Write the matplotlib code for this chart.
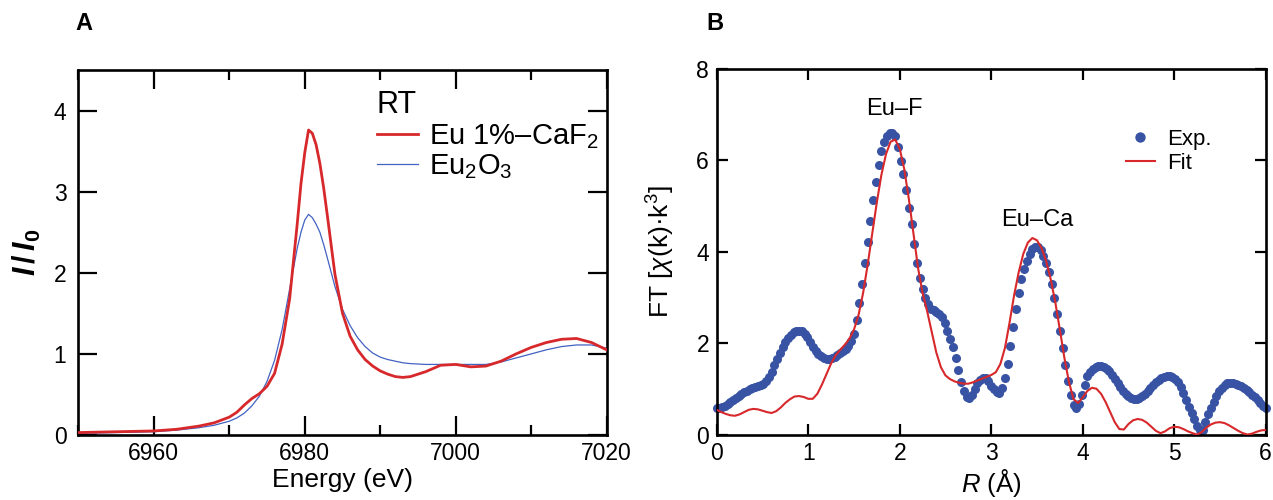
import numpy as np
import matplotlib
matplotlib.use('Agg')
import matplotlib.pyplot as plt
from matplotlib.ticker import MultipleLocator

# =========================================================================
# style
# =========================================================================
plt.rcParams['font.family'] = ['Liberation Sans', 'DejaVu Sans']
plt.rcParams['mathtext.fontset'] = 'custom'
plt.rcParams['mathtext.rm'] = 'Liberation Sans'
plt.rcParams['mathtext.it'] = 'Liberation Sans:italic'
plt.rcParams['mathtext.bf'] = 'Liberation Sans:bold'
plt.rcParams['mathtext.bfit'] = 'Liberation Sans:italic:bold'

RED = '#d7282b'
BLUE_DOT = '#3853a3'
BLUE_LINE = '#4262c2'

# =========================================================================
# data  (A: XANES, B: FT-EXAFS)
# =========================================================================
energy = [6950, 6955, 6960, 6963, 6966, 6968, 6970, 6971, 6972, 6973, 6974,
          6975, 6976, 6977, 6978, 6979, 6979.5, 6980, 6980.5, 6981, 6981.5,
          6982, 6982.5, 6983, 6984, 6985, 6986, 6987, 6988, 6989, 6990,
          6991, 6992, 6993, 6994, 6996, 6998, 7000, 7002, 7004, 7006, 7008,
          7010, 7012, 7014, 7016, 7018, 7020]
xanes_caf2 = [0.03, 0.04, 0.05, 0.07, 0.11, 0.15, 0.22, 0.28, 0.37, 0.45, 0.51,
              0.60, 0.76, 1.12, 1.68, 2.60, 3.10, 3.48, 3.76, 3.72, 3.58,
              3.35, 3.05, 2.70, 1.98, 1.50, 1.22, 1.05, 0.93, 0.85, 0.79,
              0.75, 0.72, 0.71, 0.72, 0.78, 0.86, 0.87, 0.84, 0.85, 0.91, 1.00,
              1.08, 1.14, 1.18, 1.19, 1.14, 1.05]
xanes_eu2o3 = [0.02, 0.03, 0.04, 0.06, 0.09, 0.12, 0.17, 0.21, 0.27, 0.36, 0.48,
               0.66, 0.92, 1.30, 1.80, 2.30, 2.50, 2.65, 2.72, 2.68, 2.60,
               2.50, 2.35, 2.18, 1.83, 1.55, 1.35, 1.20, 1.09, 1.01, 0.96,
               0.93, 0.91, 0.89, 0.88, 0.87, 0.87, 0.87, 0.87, 0.87, 0.90, 0.95,
               1.00, 1.05, 1.09, 1.11, 1.11, 1.07]

# experimental |FT|, sampled every 0.03 A from R = 0
ft_exp = [0.58, 0.60, 0.62, 0.64, 0.67, 0.71, 0.76, 0.81, 0.85, 0.89,
          0.93, 0.97, 1.00, 1.03, 1.05, 1.07, 1.09, 1.12, 1.17, 1.26,
          1.38, 1.52, 1.66, 1.80, 1.92, 2.03, 2.12, 2.19, 2.25, 2.28,
          2.28, 2.26, 2.21, 2.13, 2.03, 1.93, 1.84, 1.77, 1.72, 1.68,
          1.66, 1.66, 1.68, 1.71, 1.75, 1.79, 1.83, 1.88, 1.95, 2.05,
          2.20, 2.50, 2.88, 3.30, 3.75, 4.21, 4.68, 5.12, 5.52, 5.90,
          6.19, 6.40, 6.53, 6.60, 6.60, 6.52, 6.28, 5.98, 5.70, 5.35,
          4.95, 4.60, 4.18, 3.75, 3.42, 3.18, 3.00, 2.85, 2.76, 2.72,
          2.68, 2.64, 2.58, 2.45, 2.28, 2.10, 1.92, 1.69, 1.42, 1.15,
          0.96, 0.82, 0.80, 0.88, 1.01, 1.13, 1.21, 1.25, 1.24, 1.17,
          1.08, 1.00, 0.93, 0.92, 1.03, 1.25, 1.55, 1.95, 2.35, 2.76,
          3.10, 3.40, 3.62, 3.80, 3.95, 4.05, 4.11, 4.10, 4.03, 3.90,
          3.75, 3.55, 3.30, 2.98, 2.64, 2.28, 1.90, 1.53, 1.18, 0.88,
          0.66, 0.58, 0.68, 0.88, 1.10, 1.28, 1.38, 1.45, 1.49, 1.51,
          1.50, 1.48, 1.45, 1.39, 1.31, 1.22, 1.13, 1.04, 0.96, 0.90,
          0.85, 0.81, 0.79, 0.79, 0.81, 0.85, 0.90, 0.96, 1.03, 1.09,
          1.15, 1.20, 1.24, 1.27, 1.28, 1.28, 1.26, 1.22, 1.15, 1.05,
          0.92, 0.77, 0.61, 0.47, 0.34, 0.20, 0.10, 0.11, 0.29, 0.46,
          0.60, 0.73, 0.85, 0.95, 1.03, 1.09, 1.13, 1.14, 1.14, 1.12,
          1.10, 1.06, 1.02, 0.98, 0.94, 0.88, 0.82, 0.76, 0.70, 0.64,
          0.58]
exp_step = 0.03

# fit, sampled every 0.05 A from R = 0
ft_fit = [0.55, 0.50, 0.46, 0.43, 0.42, 0.45, 0.50, 0.55, 0.57, 0.56,
          0.53, 0.50, 0.48, 0.52, 0.60, 0.70, 0.78, 0.84, 0.85, 0.83,
          0.79, 0.79, 0.90, 1.10, 1.33, 1.56, 1.74, 1.86, 1.97, 2.10,
          2.30, 2.62, 3.10, 3.72, 4.40, 5.08, 5.68, 6.13, 6.40, 6.45,
          6.25, 5.80, 5.15, 4.40, 3.65, 3.10, 2.70, 2.25, 1.80, 1.48,
          1.30, 1.22, 1.17, 1.14, 1.12, 1.12, 1.15, 1.19, 1.23, 1.27,
          1.31, 1.37, 1.55, 1.90, 2.45, 3.05, 3.55, 3.95, 4.20, 4.30,
          4.25, 4.08, 3.80, 3.40, 2.90, 2.30, 1.68, 1.15, 0.78, 0.70,
          0.82, 0.96, 1.03, 1.01, 0.90, 0.72, 0.50, 0.28, 0.13, 0.12,
          0.24, 0.32, 0.35, 0.33, 0.27, 0.18, 0.09, 0.04, 0.08, 0.15,
          0.18, 0.17, 0.13, 0.08, 0.04, 0.01, 0.06, 0.16, 0.23, 0.27,
          0.28, 0.26, 0.21, 0.15, 0.09, 0.04, 0.01, 0.03, 0.07, 0.10,
          0.11]
fit_step = 0.05

r_exp = np.arange(len(ft_exp)) * exp_step
r_fit = np.arange(len(ft_fit)) * fit_step

# =========================================================================
# figure
# =========================================================================
fig = plt.figure(figsize=(12.73, 5.0), dpi=100)
ax1 = fig.add_axes([0.0615, 0.13, 0.4151, 0.73])
ax2 = fig.add_axes([0.563, 0.13, 0.4313, 0.733])

for ax in (ax1, ax2):
    for sp in ax.spines.values():
        sp.set_linewidth(1.9)

# ---------------- (A) ----------------
ax1.plot(energy, xanes_caf2, color=RED, lw=2.0, label='Eu 1%–CaF$_2$', zorder=3)
ax1.plot(energy, xanes_eu2o3, color=BLUE_LINE, lw=0.9, label='Eu$_2$O$_3$', zorder=2)
ax1.set_xlim(6950, 7020)
ax1.set_ylim(0, 4.5)
ax1.xaxis.set_major_locator(MultipleLocator(20))
ax1.xaxis.set_minor_locator(MultipleLocator(10))
ax1.yaxis.set_major_locator(MultipleLocator(1))
ax1.tick_params(which='both', direction='in', top=True, right=True, width=1.6,
                labelsize=16.5)
ax1.tick_params(which='major', length=13.5)
ax1.tick_params(which='minor', length=7.2)
ax1.tick_params(axis='x', pad=5.0)
ax1.tick_params(axis='y', pad=8.5)
ax1.set_xlabel('Energy (eV)', fontsize=19)
ax1.set_ylabel(r'$\mathbfit{I}\,\mathbf{/}\,\mathbfit{I}_{\mathbf{0}}$', fontsize=22)
ax1.xaxis.set_label_coords(0.5, -0.09)
ax1.yaxis.set_label_coords(-0.066, 0.5)

leg1 = ax1.legend(loc='upper left', bbox_to_anchor=(0.565, 0.945), frameon=False,
                  fontsize=21, title='RT', title_fontsize=22, alignment='left',
                  handlelength=1.4, handletextpad=0.4, labelspacing=0.06,
                  borderpad=0, borderaxespad=0)

# ---------------- (B) ----------------
ax2.plot(r_exp, ft_exp, 'o', color=BLUE_DOT, ms=6.5, mec='none', label='Exp.',
         zorder=2, clip_on=False)
ax2.plot(r_fit, ft_fit, color=RED, lw=1.5, label='Fit', zorder=3)
ax2.set_xlim(0, 6)
ax2.set_ylim(0, 8)
ax2.xaxis.set_major_locator(MultipleLocator(1))
ax2.yaxis.set_major_locator(MultipleLocator(2))
ax2.tick_params(direction='in', top=True, right=True, width=1.6, length=8,
                labelsize=16.5)
ax2.tick_params(axis='x', pad=5.0)
ax2.tick_params(axis='y', pad=5.5)
ax2.set_xlabel(r'$R$ (Å)', fontsize=18.5)
ax2.set_ylabel(r'FT [$\chi$(k)·k$^3$]', fontsize=19)
ax2.xaxis.set_label_coords(0.5, -0.086)
ax2.yaxis.set_label_coords(-0.072, 0.5)

ax2.text(1.94, 7.12, 'Eu–F', fontsize=17, ha='center', va='center')
ax2.text(3.50, 4.7, 'Eu–Ca', fontsize=17, ha='center', va='center')

leg2 = ax2.legend(loc='upper left', bbox_to_anchor=(0.745, 0.835), frameon=False,
                  fontsize=16, handlelength=1.3, handletextpad=0.55,
                  labelspacing=0.12, borderpad=0, borderaxespad=0,
                  markerscale=1.15)

fig.text(0.059, 0.953, 'A', fontsize=17, fontweight='bold', ha='left', va='center')
fig.text(0.555, 0.953, 'B', fontsize=17, fontweight='bold', ha='left', va='center')

fig.savefig('out.png', dpi=100)
